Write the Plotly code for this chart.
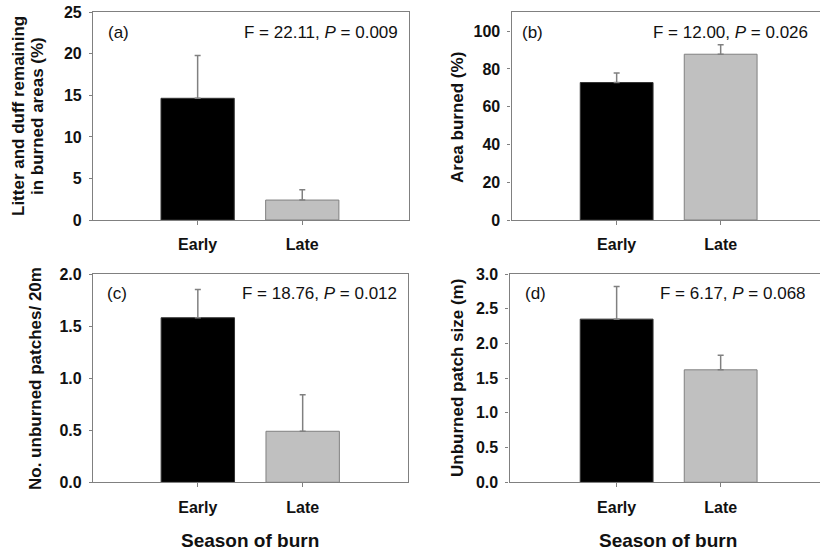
import plotly.graph_objects as go

W, H = 820, 556

seasons = ["Early", "Late"]
bar_colors = ["#000000", "#c0c0c0"]

litter_mean = [14.65, 2.4]
litter_err = [5.15, 1.25]

area_mean = [72.8, 87.8]
area_err = [5.1, 5.0]

patches_mean = [1.58, 0.49]
patches_err = [0.27, 0.35]

size_mean = [2.35, 1.62]
size_err = [0.47, 0.21]

panel_labels = ["(a)", "(b)", "(c)", "(d)"]
stats_F = ["22.11", "12.00", "18.76", "6.17"]
stats_P = ["0.009", "0.026", "0.012", "0.068"]

y_ranges = [[0, 25], [0, 110], [0, 2], [0, 3]]
y_ticks = [[0, 5, 10, 15, 20, 25], [0, 20, 40, 60, 80, 100],
           [0, 0.5, 1.0, 1.5, 2.0], [0, 0.5, 1.0, 1.5, 2.0, 2.5, 3.0]]
y_fmt = ["d", "d", ".1f", ".1f"]

FONT = "Arial, Liberation Sans, sans-serif"
GREY = "#808080"


def px(x):
    return x / W


def py(y):
    return 1 - y / H


# panel geometry (pixels): left, right, top, bottom, x-range
panels = [
    dict(l=93, r=409, t=12.3, b=220, xr=[-1, 2.02], mirror_y=True),
    dict(l=511.5, r=820, t=12.3, b=220, xr=[-1.011, 1.955], mirror_y=False),
    dict(l=93, r=407.5, t=274, b=482.3, xr=[-1, 2.0], mirror_y=True),
    dict(l=509.5, r=820, t=274, b=482.3, xr=[-1.03, 1.955], mirror_y=False),
]

data_sets = [(litter_mean, litter_err), (area_mean, area_err),
             (patches_mean, patches_err), (size_mean, size_err)]

fig = go.Figure()
layout = {}
for i, (p, (m, e)) in enumerate(zip(panels, data_sets)):
    n = "" if i == 0 else str(i + 1)
    xa, ya = "x" + n, "y" + n
    fig.add_trace(go.Bar(
        x=seasons, y=m, xaxis=xa, yaxis=ya, width=0.7,
        marker=dict(color=bar_colors, line=dict(color=["#333333", GREY], width=1)),
        error_y=dict(type="data", symmetric=False, array=e, arrayminus=[0, 0],
                     color=GREY, thickness=1.5, width=3),
        showlegend=False, hoverinfo="skip",
    ))
    layout["xaxis" + n] = dict(
        domain=[px(p["l"]), px(p["r"])], anchor=ya, type="category",
        range=p["xr"], showline=True, linecolor=GREY, linewidth=1.2,
        mirror=True, ticks="outside", ticklen=4, tickcolor=GREY,
        ticklabelstandoff=6, automargin=False,
        tickfont=dict(family=FONT, size=16, color="#111111", weight="bold"),
        showgrid=False, zeroline=False, fixedrange=True,
    )
    layout["yaxis" + n] = dict(
        domain=[py(p["b"]), py(p["t"])], anchor=xa,
        range=y_ranges[i], tickvals=y_ticks[i], tickformat=y_fmt[i],
        showline=True, linecolor=GREY, linewidth=1.2, mirror=p["mirror_y"],
        ticks="outside", ticklen=3, tickcolor=GREY, ticklabelstandoff=4,
        automargin=False,
        tickfont=dict(family=FONT, size=16, color="#111111", weight="bold"),
        showgrid=False, zeroline=False, fixedrange=True,
    )

ann = []
# panel labels and statistics
label_pos = [(106, 33), (520, 33), (105, 293), (523, 293)]
stat_pos = [(241.5, 33), (650.5, 33), (240, 293), (658, 293)]
for i in range(4):
    ann.append(dict(x=px(label_pos[i][0]), y=py(label_pos[i][1]), xref="paper", yref="paper",
                    text=panel_labels[i], showarrow=False, xanchor="left", yanchor="middle",
                    font=dict(family=FONT, size=17, color="#111111")))
    ann.append(dict(x=px(stat_pos[i][0]), y=py(stat_pos[i][1]), xref="paper", yref="paper",
                    text=f"F = {stats_F[i]}, <i>P</i> = {stats_P[i]}", showarrow=False,
                    xanchor="left", yanchor="middle",
                    font=dict(family=FONT, size=17, color="#111111")))

# y-axis titles
ytitles = [
    ("Litter and duff remaining", 18, 116),
    ("in burned areas (%)", 37, 116),
    ("Area burned (%)", 457, 118),
    ("No. unburned patches/ 20m", 35, 379),
    ("Unburned patch size (m)", 457, 378),
]
for t, x, y in ytitles:
    ann.append(dict(x=px(x), y=py(y), xref="paper", yref="paper", text=t, textangle=-90,
                    showarrow=False, xanchor="center", yanchor="middle",
                    font=dict(family=FONT, size=17, color="#111111", weight="bold")))

# x-axis titles
for x in (250, 668):
    ann.append(dict(x=px(x), y=py(540), xref="paper", yref="paper", text="Season of burn",
                    showarrow=False, xanchor="center", yanchor="middle",
                    font=dict(family=FONT, size=19, color="#111111", weight="bold")))

fig.update_layout(
    template="none",
    width=W, height=H, margin=dict(l=0, r=0, t=0, b=0, pad=0, autoexpand=False),
    paper_bgcolor="white", plot_bgcolor="white",
    annotations=ann, bargap=0.3, **layout,
)

fig.write_html("out.html", config={"displayModeBar": False},
               post_script="document.body.style.margin='0';document.body.style.overflow='hidden';")
